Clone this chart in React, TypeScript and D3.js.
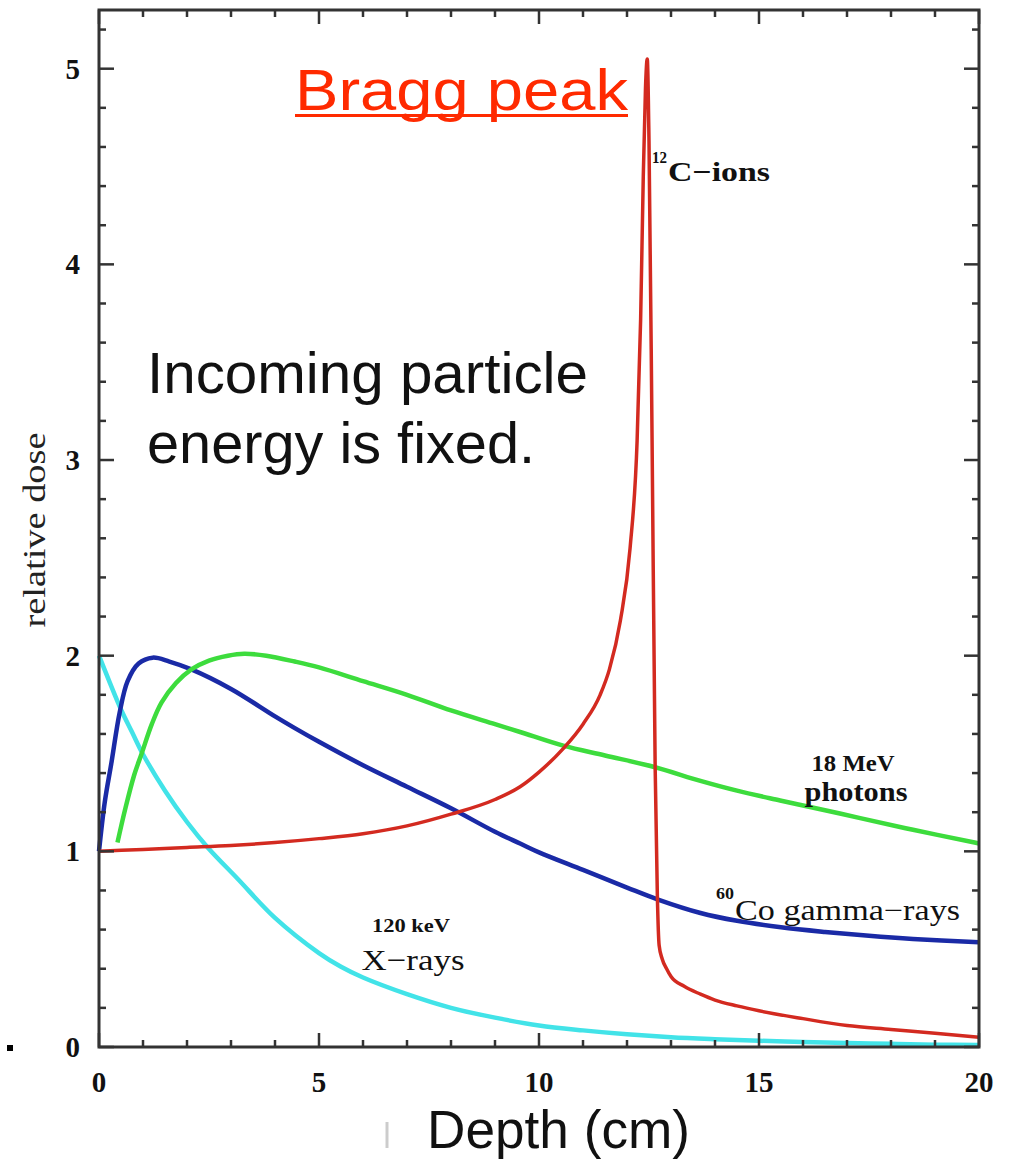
import React from "react";
import * as d3 from "d3";

// ---- data (depth cm, relative dose) ----
const carbonIons: [number, number][] = [
  [0, 1.0], [1, 1.01], [2, 1.02], [3, 1.03], [4, 1.045], [5, 1.065], [6, 1.09], [7, 1.13],
  [8, 1.19], [9, 1.265], [9.57, 1.33], [10, 1.405], [10.55, 1.525], [11, 1.65], [11.39, 1.8],
  [11.6, 1.93], [11.85, 2.18], [12.07, 2.55], [12.23, 3.1], [12.31, 3.72], [12.37, 4.45],
  [12.42, 4.9], [12.46, 5.05], [12.5, 4.63], [12.57, 3.1], [12.64, 1.43], [12.69, 0.77],
  [12.73, 0.52], [12.8, 0.45], [12.9, 0.4], [13, 0.36], [13.3, 0.31], [13.67, 0.27],
  [14, 0.24], [14.5, 0.21], [15, 0.185], [16, 0.145], [17, 0.11], [18, 0.09], [19, 0.07],
  [20, 0.05],
];
const photons18MeV: [number, number][] = [
  [0.42, 1.045], [0.6, 1.22], [0.8, 1.39], [0.97, 1.5], [1.2, 1.65], [1.42, 1.76],
  [1.75, 1.86], [2.1, 1.93], [2.5, 1.975], [2.93, 2.0], [3.3, 2.01], [3.8, 2.0],
  [4.45, 1.97], [5, 1.94], [6, 1.87], [7, 1.8], [8, 1.72], [9, 1.65], [9.57, 1.61],
  [10.55, 1.54], [11.5, 1.49], [12.64, 1.43], [13.67, 1.36], [14.5, 1.31], [15.48, 1.26],
  [16.5, 1.21], [17.3, 1.17], [18.5, 1.11], [19.9, 1.045], [20, 1.04],
];
const cobaltGamma: [number, number][] = [
  [0, 1.0], [0.13, 1.25], [0.28, 1.45], [0.47, 1.71], [0.65, 1.87], [0.9, 1.96],
  [1.22, 1.99], [1.6, 1.97], [2.1, 1.93], [3, 1.83], [4, 1.69], [4.45, 1.63], [5, 1.56],
  [6, 1.44], [7, 1.33], [8, 1.22], [9, 1.1], [9.57, 1.04], [10, 0.995], [11, 0.905],
  [12, 0.815], [12.69, 0.755], [13.67, 0.685], [14.5, 0.645], [15.5, 0.612],
  [16.5, 0.588], [17.5, 0.568], [18.5, 0.552], [20, 0.535],
];
const xrays120keV: [number, number][] = [
  [0, 2.0], [0.25, 1.86], [0.51, 1.72], [0.75, 1.61], [0.99, 1.5], [1.5, 1.31], [2, 1.15],
  [2.47, 1.02], [3.15, 0.86], [4, 0.66], [5, 0.48], [5.5, 0.41], [6, 0.355], [7, 0.27],
  [8, 0.2], [9, 0.15], [10, 0.11], [11, 0.085], [12, 0.065], [13, 0.05], [14, 0.04],
  [15, 0.032], [16, 0.026], [17, 0.02], [18, 0.016], [19, 0.012], [20, 0.01],
];
const xTickLabels = [0, 5, 10, 15, 20];
const yTickLabels = [0, 1, 2, 3, 4, 5];

const W = 1013;
const H = 1162;

export default function App() {
  const x = d3.scaleLinear().domain([0, 20]).range([99, 979]);
  const y = d3.scaleLinear().domain([0, 5.3]).range([1047, 10]);
  const smooth = d3
    .line<[number, number]>()
    .x((d) => x(d[0]))
    .y((d) => y(d[1]))
    .curve(d3.curveCatmullRom.alpha(0.5));
  const sharp = d3
    .line<[number, number]>()
    .x((d) => x(d[0]))
    .y((d) => y(d[1]))
    .curve(d3.curveMonotoneX);

  const xMinor = d3.range(0, 21, 1);
  const yMinor = d3.range(0, 5.3, 0.2).map((v) => Math.round(v * 10) / 10);
  const isMajorX = (v: number) => v % 5 === 0;
  const isMajorY = (v: number) => Math.abs(v - Math.round(v)) < 1e-6;
  const frame = "#333";
  const serif = "'Liberation Serif', 'DejaVu Serif', serif";
  const sans = "'Liberation Sans', Arial, sans-serif";

  return (
    <div style={{ position: "absolute", left: 0, top: 0 }}>
      <svg width={W} height={H} style={{ display: "block", background: "#fff" }}>
        {/* curves */}
        <path d={smooth(xrays120keV) || ""} fill="none" stroke="#42e3e8" strokeWidth={4.5} />
        <path d={smooth(cobaltGamma) || ""} fill="none" stroke="#1a2aa6" strokeWidth={4.5} />
        <path d={smooth(photons18MeV) || ""} fill="none" stroke="#3ddc3d" strokeWidth={4.5} />
        <path d={sharp(carbonIons) || ""} fill="none" stroke="#d32a20" strokeWidth={3.5} />

        {/* frame */}
        <rect x={x(0)} y={y(5.3)} width={x(20) - x(0)} height={y(0) - y(5.3)} fill="none" stroke={frame} strokeWidth={3} />
        {xMinor.map((v) => {
          const len = isMajorX(v) ? 14 : 7;
          return (
            <g key={"xt" + v}>
              <line x1={x(v)} x2={x(v)} y1={y(0)} y2={y(0) - len} stroke={frame} strokeWidth={2.5} />
              <line x1={x(v)} x2={x(v)} y1={y(5.3)} y2={y(5.3) + len} stroke={frame} strokeWidth={2.5} />
            </g>
          );
        })}
        {yMinor.map((v) => {
          const len = isMajorY(v) ? 15 : 7;
          return (
            <g key={"yt" + v}>
              <line x1={x(0)} x2={x(0) + len} y1={y(v)} y2={y(v)} stroke={frame} strokeWidth={2.5} />
              <line x1={x(20)} x2={x(20) - len} y1={y(v)} y2={y(v)} stroke={frame} strokeWidth={2.5} />
            </g>
          );
        })}
        {xTickLabels.map((v) => (
          <text key={"xl" + v} x={x(v)} y={1092} textAnchor="middle" fontFamily={serif} fontWeight="bold" fontSize={29} fill="#111">
            {v}
          </text>
        ))}
        {yTickLabels.map((v) => (
          <text key={"yl" + v} x={80} y={y(v) + 10} textAnchor="end" fontFamily={serif} fontWeight="bold" fontSize={29} fill="#111">
            {v}
          </text>
        ))}

        {/* axis titles */}
        <text transform="translate(45,530) rotate(-90)" textAnchor="middle" fontFamily={serif} fontSize={32} fill="#222" textLength={195} lengthAdjust="spacingAndGlyphs">
          relative dose
        </text>
        <text x={427} y={1148} fontFamily={sans} fontSize={54} fill="#111" textLength={263} lengthAdjust="spacingAndGlyphs">
          Depth (cm)
        </text>
        <line x1={387} x2={387} y1={1122} y2={1148} stroke="#ccc" strokeWidth={3} />

        {/* annotations */}
        <text x={295} y={110} fontFamily={sans} fontSize={58} fill="#ff2a00" textLength={333} lengthAdjust="spacingAndGlyphs">
          Bragg peak
        </text>
        <line x1={295} x2={628} y1={115.5} y2={115.5} stroke="#ff2a00" strokeWidth={3} />

        <text x={147} y={393} fontFamily={sans} fontSize={57} fill="#111" textLength={441} lengthAdjust="spacingAndGlyphs">
          Incoming particle
        </text>
        <text x={147} y={463} fontFamily={sans} fontSize={57} fill="#111" textLength={388} lengthAdjust="spacingAndGlyphs">
          energy is fixed.
        </text>

        <text x={652} y={163} fontFamily={serif} fontWeight="bold" fontSize={17} fill="#111" textLength={15} lengthAdjust="spacingAndGlyphs">12</text>
        <text x={668} y={181} fontFamily={serif} fontWeight="bold" fontSize={28} fill="#111" textLength={102} lengthAdjust="spacingAndGlyphs">C−ions</text>

        <text x={853} y={771} textAnchor="middle" fontFamily={serif} fontWeight="bold" fontSize={23} fill="#111" textLength={83} lengthAdjust="spacingAndGlyphs">18 MeV</text>
        <text x={856} y={801} textAnchor="middle" fontFamily={serif} fontWeight="bold" fontSize={27} fill="#111" textLength={103} lengthAdjust="spacingAndGlyphs">photons</text>

        <text x={716} y={899} fontFamily={serif} fontWeight="bold" fontSize={17} fill="#111" textLength={18} lengthAdjust="spacingAndGlyphs">60</text>
        <text x={735} y={920} fontFamily={serif} fontSize={29} fill="#111" textLength={225} lengthAdjust="spacingAndGlyphs">Co gamma−rays</text>

        <text x={411} y={932} textAnchor="middle" fontFamily={serif} fontWeight="bold" fontSize={19} fill="#111" textLength={78} lengthAdjust="spacingAndGlyphs">120 keV</text>
        <text x={413} y={970} textAnchor="middle" fontFamily={serif} fontSize={30} fill="#111" textLength={103} lengthAdjust="spacingAndGlyphs">X−rays</text>

        <rect x={7} y={1045} width={6} height={6} fill="#000" />
      </svg>
    </div>
  );
}
